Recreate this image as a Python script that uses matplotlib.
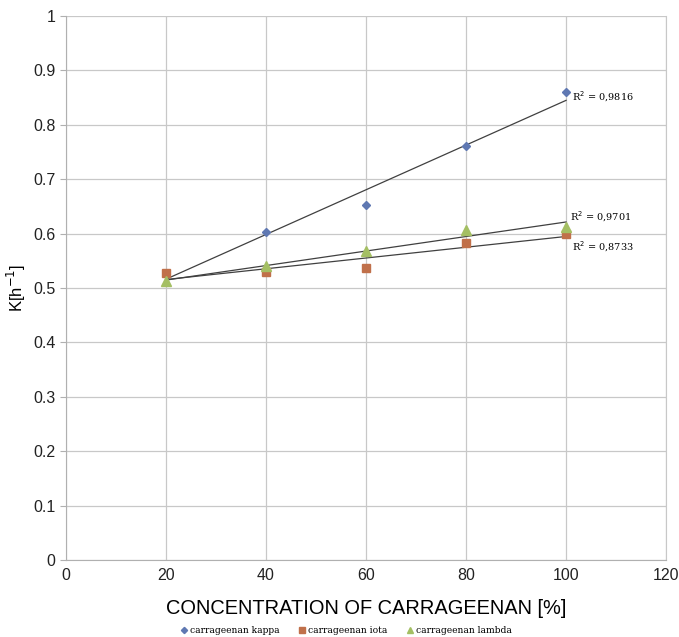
import numpy as np
import matplotlib.pyplot as plt

conc = [20, 40, 60, 80, 100]
kappa = [0.528, 0.602, 0.652, 0.760, 0.860]
iota = [0.527, 0.530, 0.536, 0.582, 0.600]
lambd = [0.512, 0.540, 0.568, 0.607, 0.612]
r2_labels = ["R$^2$ = 0,9816", "R$^2$ = 0,9701", "R$^2$ = 0,8733"]

fig = plt.figure(figsize=(6.79, 6.37), dpi=100)
ax = fig.add_axes([0.097, 0.121, 0.884, 0.854])

series = [
    ("carrageenan kappa", kappa, "D", "#5f78b2", 4.5),
    ("carrageenan iota", iota, "s", "#c0704a", 6),
    ("carrageenan lambda", lambd, "^", "#a4bf63", 6.5),
]
for name, vals, mk, col, ms in series:
    ax.plot(conc, vals, linestyle="none", marker=mk, color=col, markersize=ms, label=name, zorder=3)
    # linear trendline
    b, a = np.polyfit(conc, vals, 1)
    xs = np.array([conc[0], conc[-1]])
    ax.plot(xs, a + b * xs, color="#404040", lw=0.9, zorder=2)

ax.text(101.2, 0.851, r2_labels[0], fontsize=7, family="DejaVu Serif", va="center")
ax.text(100.8, 0.631, r2_labels[1], fontsize=7, family="DejaVu Serif", va="center")
ax.text(101.2, 0.575, r2_labels[2], fontsize=7, family="DejaVu Serif", va="center")

ax.set_xlim(0, 120)
ax.set_ylim(0, 1)
ax.set_xticks(range(0, 121, 20))
ax.set_yticks(np.arange(0, 1.01, 0.1))
ax.set_yticklabels(["0", "0.1", "0.2", "0.3", "0.4", "0.5", "0.6", "0.7", "0.8", "0.9", "1"])
ax.grid(True, color="#c8c8c8", lw=0.9)
ax.set_axisbelow(True)
ax.spines["top"].set_visible(False)
ax.spines["right"].set_color("#c8c8c8")
for s in ["left", "bottom"]:
    ax.spines[s].set_color("#b0b0b0")
ax.tick_params(colors="#b0b0b0", labelcolor="#222222", labelsize=11.5)
ax.tick_params(axis="y", length=4)
ax.tick_params(axis="x", length=0, pad=6)
for lbl in ax.get_xticklabels() + ax.get_yticklabels():
    lbl.set_family("Liberation Sans")

ax.set_xlabel("CONCENTRATION OF CARRAGEENAN [%]", fontsize=14.4, family="Liberation Sans", labelpad=11)
ax.set_ylabel("K[h$^{-1}$]", fontsize=12, family="Liberation Sans", labelpad=4)

ax.legend(loc="upper center", bbox_to_anchor=(0.466, -0.106), ncol=3, frameon=False,
          prop={"family": "DejaVu Serif", "size": 6.6}, handletextpad=0.1, columnspacing=2.0,
          markerscale=0.7, handlelength=1.0)

plt.savefig("out.png", dpi=100)
